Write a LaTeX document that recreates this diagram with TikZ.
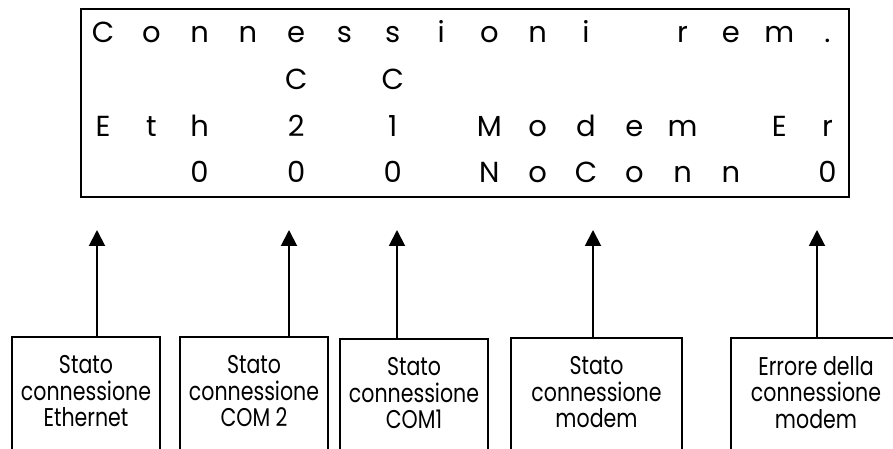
\documentclass[tikz,border=0pt]{standalone}
\usepackage{fontspec}
\setmainfont{Poppins}
\newfontfamily\tagfont[FakeStretch=0.8]{Poppins}
\usetikzlibrary{arrows.meta,positioning}

\begin{document}
\begin{tikzpicture}[>={Triangle[width=0.32cm,length=0.32cm]}, line width=1.1pt,
  lcd/.style={anchor=base, inner sep=0pt, font=\fontsize{16.5}{18}\selectfont},
  tagbox/.style={draw, anchor=north, minimum width=#1, minimum height=3cm, inner sep=0pt},
  tagtext/.style={anchor=north, align=center, inner sep=0pt, font=\tagfont\fontsize{14.6}{15.05}\selectfont}]

  % Picture area: 17.86cm x 8.98cm, the tag boxes run off the bottom and right
  \def\W{17.86}
  \def\H{8.98}
  \clip (0,0) rectangle (\W,\H);

  % Display frame
  \node[draw, line width=1.5pt, minimum width=15.36cm, minimum height=3.76cm, inner sep=0pt]
    (lcd) at (9.30,6.92) {};

  % Display characters on a 16-column grid
  \def\dx{0.966}
  \foreach \k/\c in {0/C,1/o,2/n,3/n,4/e,5/s,6/s,7/i,8/o,9/n,10/i,12/r,13/e,14/m,15/.}
    \node[lcd] (ra\k) at (2.06+\k*\dx, 8.12) {\c};
  \foreach \k/\c in {4/C,6/C}
    \node[lcd] (rb\k) at (2.06+\k*\dx, 7.18) {\c};
  \foreach \k/\c in {0/E,1/t,2/h,4/2,6/1,8/M,9/o,10/d,11/e,12/m,14/E,15/r}
    \node[lcd] (rc\k) at (2.06+\k*\dx, 6.24) {\c};
  \foreach \k/\c in {2/0,4/0,6/0,8/N,9/o,10/C,11/o,12/n,13/n,15/0}
    \node[lcd] (rd\k) at (2.06+\k*\dx, 5.32) {\c};

  % Tag boxes
  \node[tagbox=2.96cm] (eth)  at (1.72,2.26) {};
  \node[tagbox=2.96cm] (com2) at (5.08,2.26) {};
  \node[tagbox=2.96cm] (com1) at (8.28,2.22) {};
  \node[tagbox=3.42cm] (mdm)  at (11.93,2.24) {};
  \node[tagbox=3.40cm] (err)  at (16.32,2.24) {};

  \node[tagtext] (etht)  at ([yshift=-0.37cm]eth.north)  {Stato\\connessione\\Ethernet};
  \node[tagtext] (com2t) at ([yshift=-0.37cm]com2.north) {Stato\\connessione\\COM 2};
  \node[tagtext] (com1t) at ([yshift=-0.37cm]com1.north) {Stato\\connessione\\COM1};
  \node[tagtext] (mdmt)  at ([yshift=-0.37cm]mdm.north)  {Stato\\connessione\\modem};
  \node[tagtext] (errt)  at ([yshift=-0.37cm]err.north)  {Errore della\\connessione\\modem};

  % Arrow tips under the display
  \coordinate (p1) at (1.94,4.38);
  \coordinate (p2) at (5.78,4.38);
  \coordinate (p3) at (7.94,4.38);
  \coordinate (p4) at (11.86,4.38);
  \coordinate (p5) at (16.34,4.38);

  \draw[->] (eth.north -| p1)  -- (p1);
  \draw[->] (com2.north -| p2) -- (p2);
  \draw[->] (com1.north -| p3) -- (p3);
  \draw[->] (mdm.north -| p4)  -- (p4);
  \draw[->] (err.north -| p5)  -- (p5);
\end{tikzpicture}
\end{document}
